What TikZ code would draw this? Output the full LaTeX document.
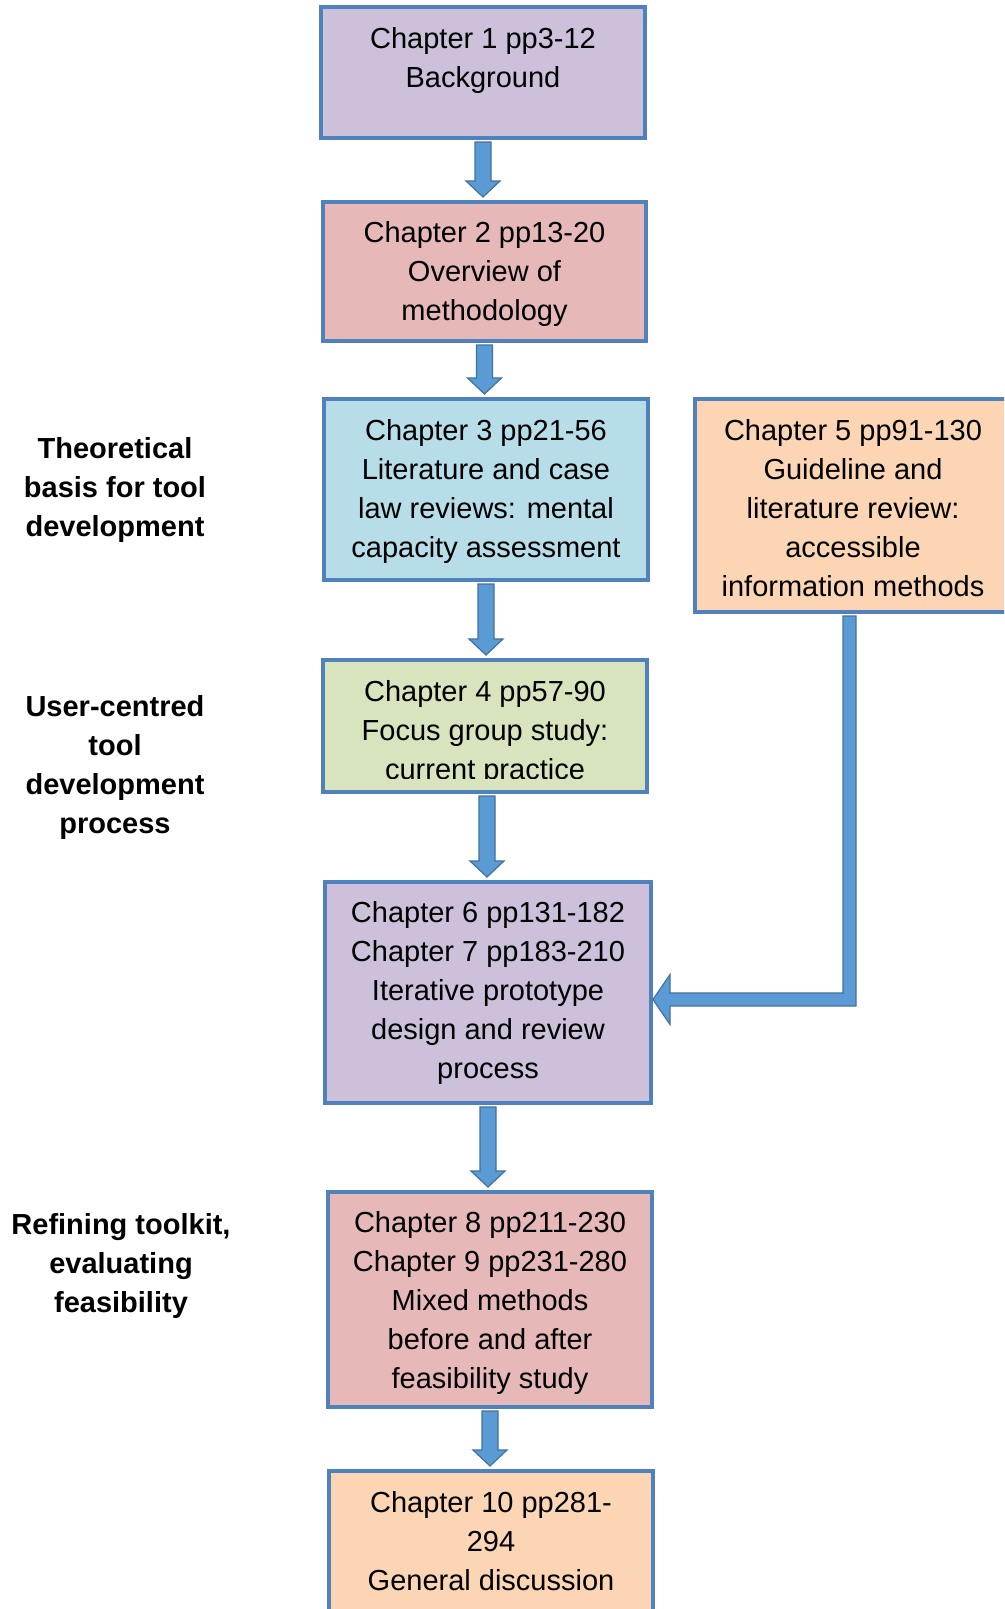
\documentclass[tikz,border=0pt]{standalone}
\usepackage{fontspec}
\setmainfont{Liberation Sans}
\usetikzlibrary{calc,positioning}

\definecolor{edgeblue}{HTML}{4F81BD}
\definecolor{arrowfill}{HTML}{5B9BD5}
\definecolor{arrowedge}{HTML}{41719C}
\definecolor{lavender}{HTML}{CCC0DA}
\definecolor{rose}{HTML}{E6B9B8}
\definecolor{skyblue}{HTML}{B7DEE8}
\definecolor{sage}{HTML}{D7E4BD}
\definecolor{peach}{HTML}{FCD5B5}

\tikzset{
  chapbox/.style={draw=edgeblue, line width=4pt, inner sep=0pt},
  boxtext/.style={align=center, inner sep=0pt, anchor=north,
    font=\fontsize{29}{39}\selectfont},
  sidelabel/.style={align=center, inner sep=0pt, anchor=north,
    font=\fontsize{29}{39}\selectfont\bfseries},
  blockarrow/.style={fill=arrowfill, draw=arrowedge, line width=1.2pt, line join=miter}
}

% vertical block arrow from #1 (top) down to #2 (tip)
\newcommand{\downblock}[2]{%
  \draw[blockarrow] ($(#1)+(-8,0)$) -- ($(#2)+(-8,-16)$) -- ($(#2)+(-17,-16)$)
    -- (#2) -- ($(#2)+(17,-16)$) -- ($(#2)+(8,-16)$) -- ($(#1)+(8,0)$) -- cycle;}

\begin{document}
\begin{tikzpicture}[x=1pt, y=-1pt]
\clip (0,0) rectangle (1004,1609);
\fill[white] (0,0) rectangle (1004,1609);

% chapter boxes
\node[chapbox, fill=lavender, minimum width=324pt, minimum height=131pt] (b1) at (483,72.5) {};
\node[chapbox, fill=rose,     minimum width=323pt, minimum height=139pt] (b2) at (484.5,271.5) {};
\node[chapbox, fill=skyblue,  minimum width=324pt, minimum height=181pt] (b3) at (486,489.5) {};
\node[chapbox, fill=peach,    minimum width=316pt, minimum height=213pt] (b5) at (853,505.5) {};
\node[chapbox, fill=sage,     minimum width=324pt, minimum height=132pt] (b4) at (485,726) {};
\node[chapbox, fill=lavender, minimum width=326pt, minimum height=221pt] (b6) at (488,992.5) {};
\node[chapbox, fill=rose,     minimum width=324pt, minimum height=215pt] (b8) at (490,1299.5) {};
\node[chapbox, fill=peach,    minimum width=324pt, minimum height=154pt] (b10) at (491,1548) {};

% box texts
\node[boxtext, below=22pt of b1.north] (t1) {Chapter 1 pp3-12\\Background};
\node[boxtext, below=21pt of b2.north] (t2) {Chapter 2 pp13-20\\Overview of\\methodology};
\node[boxtext, below=22pt of b3.north] (t3) {Chapter 3 pp21-56\\Literature and case\\law reviews: mental\\capacity assessment};
\node[boxtext, below=22pt of b5.north] (t5) {Chapter 5 pp91-130\\Guideline and\\literature review:\\accessible\\information methods};
\begin{scope}
  \clip (323,660) rectangle (647,778);
  \node[boxtext, below=22pt of b4.north] (t4) {Chapter 4 pp57-90\\Focus group study:\\current practice};
\end{scope}
\node[boxtext, below=21pt of b6.north] (t6) {Chapter 6 pp131-182\\Chapter 7 pp183-210\\Iterative prototype\\design and review\\process};
\node[boxtext, below=21pt of b8.north] (t8) {Chapter 8 pp211-230\\Chapter 9 pp231-280\\Mixed methods\\before and after\\feasibility study};
\node[boxtext, below=22pt of b10.north] (t10) {Chapter 10 pp281-\\294\\General discussion};

% stage labels
\node[sidelabel] (s1) at (115,437) {Theoretical\\basis for tool\\development};
\node[sidelabel] (s2) at (115,695) {User-centred\\tool\\development\\process};
\node[sidelabel] (s3) at (121,1213) {Refining toolkit,\\evaluating\\feasibility};

% straight block arrows
\coordinate (a1) at ($(b1.south)+(0,2)$);
\coordinate (a2) at ($(b2.south)+(0,2)$);
\coordinate (a3) at ($(b3.south)+(0,2)$);
\coordinate (a4) at ($(b4.south)+(2,2)$);
\coordinate (a6) at ($(b6.south)+(0,2)$);
\coordinate (a8) at ($(b8.south)+(0,2)$);
\downblock{a1}{$(a1 |- b2.north)+(0,-3)$}
\downblock{a2}{$(a2 |- b3.north)+(0,-3)$}
\downblock{a3}{$(a3 |- b4.north)+(0,-3)$}
\downblock{a4}{$(a4 |- b6.north)+(0,-3)$}
\downblock{a6}{$(a6 |- b8.north)+(0,-3)$}
\downblock{a8}{$(a8 |- b10.north)+(0,-3)$}

% bent block arrow from chapter 5 into chapter 6
\coordinate (elbow) at (849.5,999.5);
\coordinate (top5) at ($(b5.south -| elbow)+(0,2)$);
\coordinate (tip6) at (b6.east |- elbow);
\draw[blockarrow]
  ($(top5)+(-6.5,0)$) -- ($(elbow)+(-6.5,-6.5)$) -- ($(tip6)+(17,-6.5)$)
  -- ($(tip6)+(17,-25)$) -- (tip6) -- ($(tip6)+(17,25)$) -- ($(tip6)+(17,6.5)$)
  -- ($(elbow)+(6.5,6.5)$) -- ($(top5)+(6.5,0)$) -- cycle;
\end{tikzpicture}
\end{document}
